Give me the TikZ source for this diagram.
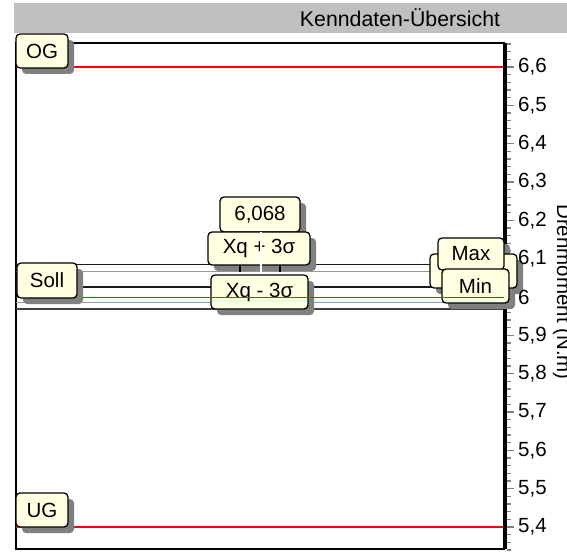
\documentclass[tikz,border=0pt]{standalone}
\usepackage{fontspec}
\setmainfont{Liberation Sans}
\definecolor{boxfill}{HTML}{FFFFE1}
\definecolor{shadowc}{HTML}{808080}
\definecolor{bandc}{HTML}{C0C0C0}
\definecolor{linegray}{HTML}{9A9A9A}
\definecolor{lineblack}{HTML}{1A1A1A}
\definecolor{greenc}{HTML}{128A12}
\definecolor{tickc}{HTML}{808080}
\begin{document}
\begin{tikzpicture}[x=1bp,y=-1bp,
  every node/.style={font=\fontsize{20.5bp}{24bp}\selectfont},
  lbox/.style={draw=black, line width=1.3bp, fill=boxfill, rounded corners=4bp, inner sep=0pt},
  shad/.style={fill=shadowc, rounded corners=4bp},
  limred/.style={draw=red, line width=2bp},
  plotblack/.style={draw=lineblack, line width=1.4bp},
  plotgray/.style={draw=linegray, line width=1.4bp},
  plotgreen/.style={draw=greenc, line width=1.6bp},
  ticklbl/.style={anchor=west, inner sep=0pt}]
\useasboundingbox (0,0) rectangle (567,552);
\fill[white] (0,0) rectangle (567,552);
% header band
\fill[bandc] (14,3) rectangle (567,33);
\node[font=\fontsize{21.3bp}{24bp}\selectfont] (title) at (400,18) {Kenndaten-Übersicht};
% frame
\draw[line width=1.5bp] (16,43) rectangle (504,549);
% axis
\draw[line width=4bp] (504.5,43) -- (504.5,549);
\foreach \i in {-3,...,63}{
  \pgfmathsetmacro{\yy}{527-\i*7.66667}
  \pgfmathtruncatemacro{\mm}{mod(\i+5,5)}
  \ifnum\mm=0
    \draw[tickc, line width=1.3bp] (506.5,\yy) -- (514,\yy);
  \else
    \draw[tickc, line width=1.1bp] (506.5,\yy) -- (510.5,\yy);
  \fi
}
% axis title
\node[rotate=-90, anchor=base] (axtitle) at (557,292) {Drehmoment (N.m)};
% plot lines
\draw[limred] (16,67) -- (503,67);
\draw[limred] (16,527) -- (503,527);
\draw[plotblack] (16,264.7) -- (503,264.7);
\draw[plotgray] (16,271.3) -- (503,271.3);
\draw[plotblack] (16,287) -- (503,287);
\draw[plotgray] (16,302.3) -- (503,302.3);
\draw[plotblack, draw=black!75] (16,309) -- (503,309);
% shadows of left/center boxes
\fill[shad] (22,40) rectangle (74,74);
\fill[shad] (22,499) rectangle (74,533);
\fill[shad] (226,203) rectangle (306,238);
\fill[shad] (214,238) rectangle (316,271);
\fill[shad] (217,281) rectangle (314,315);
% boxes
\node[lbox, minimum width=52bp, minimum height=34bp] (og) at (42,51) {OG};
\node[lbox, minimum width=52bp, minimum height=34bp] (ug) at (42,510) {UG};
\node[lbox, minimum width=80bp, minimum height=35bp] (mean) at (260,214.5) {6,068};
\node[lbox, minimum width=102bp, minimum height=33bp] (xqp) at (259,248.5) {Xq + 3σ};
\draw[white, line width=1.5bp] (261,232) -- (261,275);
\draw[black, line width=1.3bp] (240,265) -- (240,272);
\draw[black, line width=1.3bp] (280,265) -- (280,272);
\node[lbox, minimum width=97bp, minimum height=34bp] (xqm) at (259.5,292) {Xq - 3σ};
% right group
\fill[shad] (444,244) rectangle (510,276);
\fill[shad] (436,260) rectangle (523,294);
\fill[shad] (448,275) rectangle (515,309);
\node[lbox, minimum width=87bp, minimum height=34bp] (hidden) at (473.5,271) {};
\node[lbox, minimum width=66bp, minimum height=32bp] (max) at (471,254) {Max};
\node[lbox, minimum width=67bp, minimum height=34bp] (min) at (475.5,286) {Min};
% green line
\draw[plotgreen] (16,297.3) -- (504,297.3);
% Soll
\fill[shad] (23,269) rectangle (83,304);
\node[lbox, minimum width=60bp, minimum height=35bp] (soll) at (47,280.5) {Soll};
% tick labels
\foreach \j/\t in {0/{5,4},5/{5,5},10/{5,6},15/{5,7},20/{5,8},25/{5,9},30/{6},35/{6,1},40/{6,2},45/{6,3},50/{6,4},55/{6,5},60/{6,6}}{
  \pgfmathsetmacro{\yy}{527-\j*7.66667}
  \node[ticklbl] (tl\j) at (518,\yy) {\t};
}
\end{tikzpicture}
\end{document}
